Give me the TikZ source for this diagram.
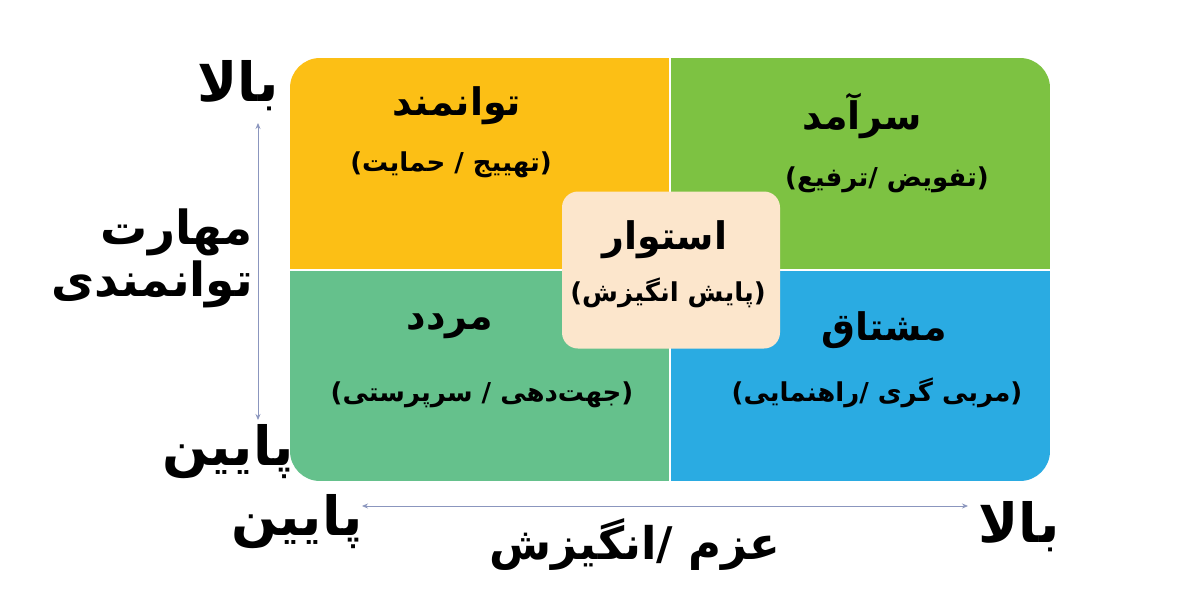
\documentclass[tikz,border=0pt]{standalone}
\usepackage{fontspec}
\usetikzlibrary{arrows.meta}
\TeXXeTstate=1
\newfontfamily\arabicfont[Script=Arabic]{DejaVu Sans}
\definecolor{qyellow}{RGB}{252,191,21}
\definecolor{qgreen}{RGB}{125,194,66}
\definecolor{qteal}{RGB}{101,193,140}
\definecolor{qblue}{RGB}{42,171,226}
\definecolor{qcenter}{RGB}{252,230,204}
\definecolor{qarrow}{RGB}{139,150,190}
\tikzset{
  title/.style={font=\arabicfont\bfseries\fontsize{38}{44}\selectfont, inner sep=0pt},
  sub/.style={font=\arabicfont\bfseries\fontsize{26}{30}\selectfont, inner sep=0pt},
  axis/.style={font=\arabicfont\bfseries\fontsize{45}{52}\selectfont, inner sep=0pt},
  bigaxis/.style={font=\arabicfont\bfseries\fontsize{54}{60}\selectfont, inner sep=0pt},
  axisline/.style={qarrow, line width=0.8pt, {Stealth[length=6pt,width=5pt]}-{Stealth[length=6pt,width=5pt]}},
}
\begin{document}
\begin{tikzpicture}[x=1pt,y=-1pt]
\useasboundingbox (0,0) rectangle (1200,616);
\fill[white] (0,0) rectangle (1200,616);
\begin{scope}
  \clip[rounded corners=30pt] (290,58) rectangle (1050,481);
  \fill[qyellow] (290,58) rectangle (670,270);
  \fill[qgreen] (670,58) rectangle (1050,270);
  \fill[qteal] (290,270) rectangle (670,481);
  \fill[qblue] (670,270) rectangle (1050,481);
  \draw[white, line width=1.2pt] (670,58) -- (670,481);
  \draw[white, line width=1.2pt] (290,270) -- (1050,270);
\end{scope}
\node[fill=qcenter, rounded corners=16pt, minimum width=218pt, minimum height=157pt, inner sep=0pt] (center) at (671,270) {};
% quadrant labels
\node[title] (tl) at (457,106) {\beginR توانمند\endR};
\node[sub] (tls) at (451,165) {\beginR (تهییج / حمایت)\endR};
\node[title] (tr) at (862,116) {\beginR سرآمد\endR};
\node[sub] (trs) at (887,180) {\beginR (تفویض /ترفیع)\endR};
\node[title] (c) at (665,240) {\beginR استوار\endR};
\node[sub] (cs) at (668,293) {\beginR (پایش انگیزش)\endR};
\node[title] (bl) at (450,326) {\beginR مردد\endR};
\node[sub] (bls) at (482,395) {\beginR (جهت‌دهی / سرپرستی)\endR};
\node[title] (br) at (884,330) {\beginR مشتاق\endR};
\node[sub] (brs) at (877,393) {\beginR (مربی گری /راهنمایی)\endR};
% axes
\node[bigaxis] (yhigh) at (238,86) {\beginR بالا\endR};
\node[axis, align=right, font=\arabicfont\bfseries\fontsize{47}{52}\selectfont] (ylab) at (152,258) {\beginR مهارت\endR\\\beginR توانمندی\endR};
\node[bigaxis] (ylow) at (228,452) {\beginR پایین\endR};
\node[bigaxis] (xlow) at (297,522) {\beginR پایین\endR};
\node[axis] (xlab) at (635,545) {\beginR عزم /انگیزش\endR};
\node[bigaxis] (xhigh) at (1019,527) {\beginR بالا\endR};
\coordinate (vtop) at (258,123);
\coordinate (vbot) at (258,420);
\coordinate (hleft) at (362,506);
\coordinate (hright) at (968,506);
\draw[axisline] (vtop) -- (vbot);
\draw[axisline] (hleft) -- (hright);
\end{tikzpicture}
\end{document}
